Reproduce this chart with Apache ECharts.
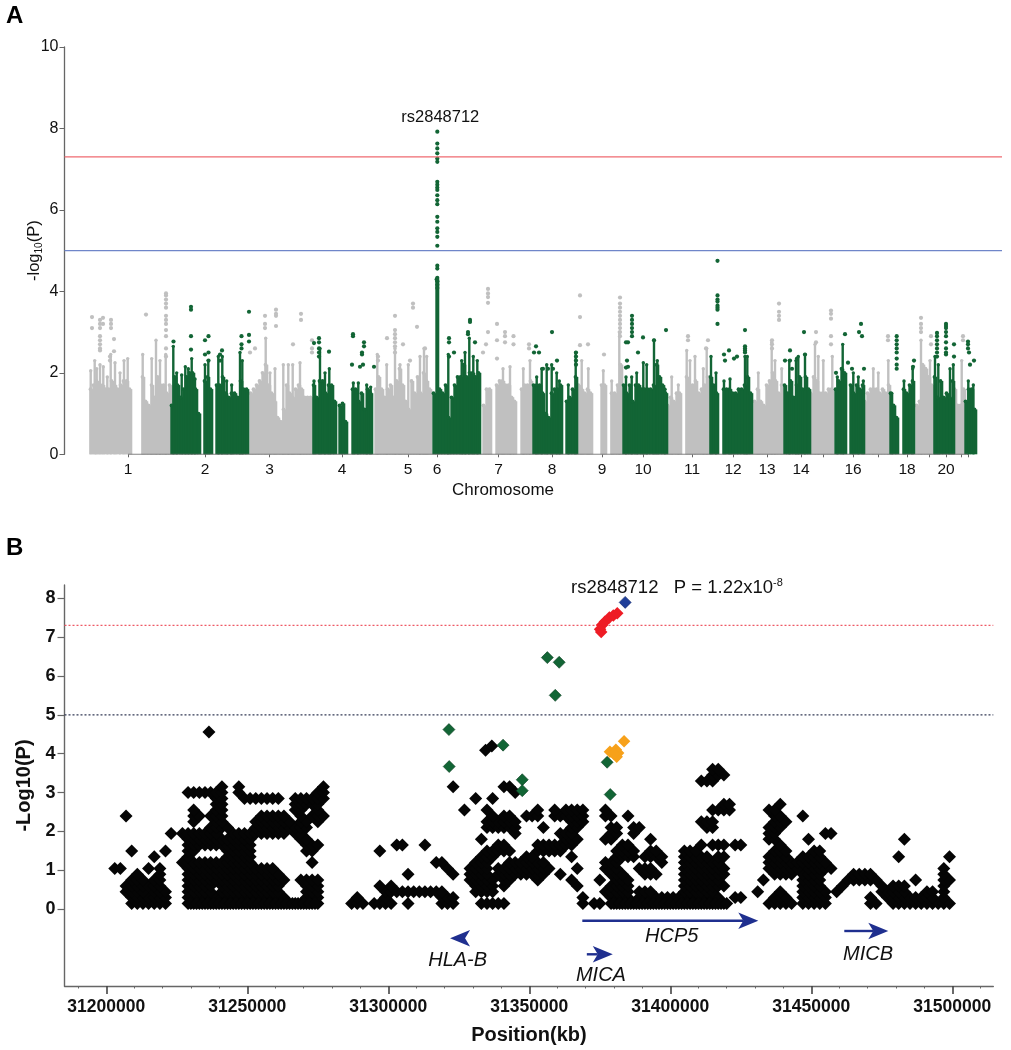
<!DOCTYPE html>
<html><head><meta charset="utf-8"><title>Manhattan and regional plot</title>
<script src="https://cdn.jsdelivr.net/npm/echarts@6/dist/echarts.min.js"></script>
<style>html,body{margin:0;padding:0;background:#fff}#c{width:1011px;height:1050px}</style>
</head><body><div id="c"></div>
<script>
// ---------- Panel A: genome-wide values (x is a running genome index) ----------
const chromTickIndex = [128,205,269.5,342,408,437,498.5,552,602,643,692,733,767,801,823,853,878,907,929,946,961,968];
const chromTickNames = ['1','2','3','4','5','6','7','8','9','10','11','12','13','14','','16','','18','','20','',''];
const columnStep = 3;
// [first index, top of the solid cloud in each column]
const grayBlocks = [
 [89,[1.6,1.7,1.8,1.7,1.7,1.6,1.6,1.8,1.7,1.6,1.7,1.8,1.8,1.6]],
 [141,[1.9,1.3,1.2,1.7,1.4,1.9,1.7,1.7,1.5,1.7]],
 [249,[1.5,1.6,1.7,1.8,2.0,2.2,1.7,1.5,1.3,0.9,0.8,1.1,1.7,1.5,1.4,1.6,1.7,1.6,1.4,1.4,1.4]],
 [374,[1.6,1.9,1.6,1.4,1.6,1.7,1.4,1.8,2.1,1.7,1.3,1.1,1.8,1.5,1.9,1.5,2.0,1.8,1.6]],
 [482,[1.2,1.6,1.6]],
 [495,[1.7,1.8,1.8,1.7,1.7,1.4,1.3]],
 [520,[1.6,1.7,1.7,1.8]],
 [577,[1.7,1.6,1.5,1.6,1.5]],
 [600,[1.7,1.7]],
 [610,[1.5,1.5,1.7,2.2]],
 [666,[1.2,1.4,1.3,1.5,1.5]],
 [685,[1.9,1.7,1.7,1.8,1.5,1.6,1.7,1.9]],
 [753,[1.3,1.6,1.3,1.2,1.7,1.8,2.0,1.8,1.5,1.7]],
 [809,[1.5,1.9,1.8,1.5,1.5,1.5,1.6,1.6]],
 [863,[1.3,1.5,1.6,1.6,1.6,1.5,1.6,1.5,1.7]],
 [915,[1.2,1.3,2.2,2.1]],
 [927,[1.9,1.7]],
 [953,[1.6,1.2,1.2,1.6]]
];
const greenBlocks = [
 [170,[1.2,1.9,1.7,1.4,1.6,1.9,2.0,2.0,1.6,1.0]],
 [203,[1.8,1.9,1.6]],
 [215,[1.7,1.7,1.9,1.5,1.4,1.5,1.5,1.4,1.8,1.6,1.6]],
 [312,[1.7,1.4,1.8,1.8,1.5,1.7,1.7,1.3]],
 [338,[1.2,1.25,0.8]],
 [351,[1.6,1.6,1.3,1.5,1.1,1.6,1.5]],
 [432,[1.5,4.3,1.6,1.5,1.7,0.9,1.4,1.7,1.9,1.9,2.2,1.9,2.0,2.0,1.9,2.0]],
 [532,[1.7,1.7,1.7,1.5,1.0,0.9,1.5,1.6,1.6,1.7]],
 [565,[1.3,1.4,1.6,1.9]],
 [622,[1.7,1.5,1.7,1.3,1.7,1.7,1.6,1.6,1.6,1.6,1.7,2.2,1.9,1.7,1.5]],
 [709,[1.9,1.7,1.5]],
 [722,[1.6,1.6,1.6,1.5,1.5,1.6,1.6,1.7,1.9,1.5]],
 [783,[1.7,1.5,1.8,1.4,1.7,1.9,1.6,1.9,1.6]],
 [834,[1.6,1.8,2.1,2.0]],
 [849,[1.7,1.5,1.7,1.6,1.7]],
 [889,[1.5,1.2,0.9]],
 [902,[1.6,1.5,1.7,1.8]],
 [933,[1.9,1.4,1.8,1.4,1.5,1.4,1.8]],
 [964,[1.3,1.6,1.6,1.1]]
];
// [genome index, top of a narrow spike rising out of the cloud]
const graySpikes = [[90.7,2.05],[94.7,2.3],[96.7,2.1],[100,2.2],[103.3,2.15],[107.3,1.9],[110.7,2.45],[115,2.25],[120,2.0],[124,2.3],[127.7,2.35],
 [142.7,2.45],[151.7,2.35],[156,2.8],[160,2.3],[165.7,2.45],[265.7,2.85],[270,2.0],[275,2.1],[283.3,2.2],[288.3,2.2],[292.7,2.2],[300,2.25],
 [377.3,2.45],[386.7,2.2],[395,2.6],[400,2.2],[408.3,2.2],[420,2.4],[424,2.6],[426.7,2.4],
 [503,2.1],[510,2.15],[523.3,2.1],[530,2.3],[581.7,2.3],[588.3,2.1],[603.3,2.05],[611.7,1.8],[619.3,3.0],[671.7,1.9],[678.3,1.7],
 [686.7,2.55],[690,2.3],[695,2.4],[703.3,2.1],[706.7,2.6],[758.3,2.0],[771.7,2.75],[775,2.3],[781.7,2.1],
 [815,2.7],[818.3,2.4],[823.3,2.3],[832.3,2.4],[873.3,2.1],[878.3,2.0],[888.3,2.3],[921,2.8],[930,2.3],[961.7,2.3]];
const greenSpikes = [[173.3,2.65],[176.7,2.0],[181.7,1.95],[185.3,2.15],[188.3,2.1],[191.7,2.35],[195,1.85],[205,2.2],[208.3,2.3],
 [218.3,2.4],[222.3,2.4],[226.7,1.8],[231.7,1.7],[240,2.5],[242.3,2.3],[314,1.8],[320,2.6],[325,2.0],[329.3,2.1],
 [353.3,1.75],[358.3,1.75],[366.7,1.7],[370.7,1.65],[448.3,2.45],[461.7,2.3],[465,2.5],[469.3,2.85],[473.3,2.4],[477.3,2.3],
 [536.7,1.9],[541.7,2.1],[546.7,2.2],[551.7,2.2],[556.7,2.0],[559.3,1.8],[568.3,1.7],[575.7,2.5],
 [626,1.9],[631.7,1.9],[636.7,2.0],[643.3,2.25],[646.7,2.2],[654,2.8],[657.3,2.3],[665,1.6],[711,2.4],[716,2.0],
 [724,1.8],[730,1.85],[745,2.4],[747.3,2.4],[789.3,2.3],[796,2.3],[798.3,2.4],[805,2.45],
 [837.3,1.9],[842.7,2.7],[853.3,2.0],[858.3,1.9],[863.3,1.8],[891.7,1.5],[904,1.8],[912.7,2.1],
 [935,2.4],[938.3,2.2],[950,2.1],[953.3,2.2],[968.3,1.8],[973.3,1.7]];
// [genome index, -log10(P) values of individual SNPs standing above the cloud]
const grayPeaks = [
 [92,[3.37,3.1]],[100,[3.3,3.2,3.1,2.9,2.8,2.7,2.6,2.55]],[103,[3.35,3.2]],[111,[3.3,3.2,3.1]],[114,[2.83,2.53]],[110,[2.4,2.3]],
 [146,[3.43]],[166,[3.95,3.9,3.8,3.7,3.6,3.4,3.3,3.2,3.05,2.9,2.6,2.4]],
 [265,[3.4,3.2,3.1]],[276,[3.55,3.45,3.4,3.15]],[301,[3.45,3.3]],[293,[2.7]],[255,[2.6]],[250,[2.5]],[312,[2.8,2.6,2.5]],
 [395,[3.4,3.05,2.95,2.85,2.75,2.65,2.5]],[387,[2.85]],[378,[2.4,2.3]],[413,[3.7,3.6]],[417,[3.13]],[403,[2.7]],[410,[2.3]],[425,[2.6]],
 [488,[4.06,3.95,3.86,3.72,3.0]],[486,[2.7]],[483,[2.5]],[497,[3.2,2.8,2.35]],[505,[3.0,2.9,2.75]],[513.5,[2.9,2.7]],
 [529,[2.7,2.6]],[580,[3.9,3.37,2.68]],[588,[2.7]],[604,[2.45]],
 [620,[3.85,3.7,3.6,3.5,3.4,3.3,3.2,3.1,3.0,2.9]],[688,[2.9,2.8]],[708,[2.8]],[706,[2.6]],
 [779,[3.7,3.5,3.4,3.3]],[772,[2.8,2.7,2.6]],[831,[3.53,3.45,3.33,2.9,2.7]],[816,[3.0,2.75]],[888,[2.9,2.8]],
 [921,[3.35,3.2,3.1,3.0]],[931,[2.9,2.7]],[963,[2.9,2.8]]
];
const greenPeaks = [
 [191,[3.62,3.55,2.9,2.57]],[173.5,[2.77]],[205,[2.8,2.45]],[208.5,[2.9,2.5,2.3]],[222,[2.55]],[220,[2.45,2.3]],[241.5,[2.9,2.7,2.6]],[249,[3.5,2.93,2.77]],
 [314,[2.73]],[319,[2.85,2.75,2.6,2.5,2.4]],[329,[2.52]],[353,[2.95,2.9]],[364,[2.75,2.65]],[362,[2.5,2.45]],[352,[2.2]],[374,[2.15]],[360,[2.15]],[363,[2.2]],
 [437.3,[7.92,7.63,7.51,7.39,7.26,7.18,6.69,6.62,6.55,6.49,6.36,6.24,6.14,5.83,5.71,5.55,5.46,5.34,5.12,4.63,4.56,4.33,4.25,4.16,4.08]],
 [470,[3.3,3.25]],[468,[3.0,2.95]],[449,[2.85,2.75,2.4]],[454,[2.5]],[475,[2.75]],
 [536,[2.65]],[534,[2.5]],[539,[2.5]],[552,[3.0]],[557,[2.3]],[543,[2.1]],[553,[2.1]],[548,[2.1]],[576,[2.5,2.4,2.3,2.2]],
 [632,[3.4,3.3,3.2,3.1,3.0,2.9]],[626,[2.75,2.13]],[628,[2.75,2.15]],[627,[2.3]],[643,[2.87]],[638,[2.5]],[666,[3.05]],[654,[2.8]],
 [717.5,[4.75,3.9,3.8,3.75,3.65,3.6,3.55,3.2]],[745,[3.05,2.65,2.6,2.55,2.5]],[724,[2.45]],[729,[2.55]],[725,[2.3]],[734,[2.35]],[737,[2.4]],
 [804,[3.0]],[790,[2.55,2.3]],[785,[2.3]],[797,[2.35]],[805,[2.45]],[792,[2.1]],
 [845,[2.95]],[861,[3.2]],[859,[3.0]],[862,[2.9]],[848,[2.25]],[864,[2.1]],[836,[2.0]],[852,[2.1]],
 [896.7,[2.9,2.8,2.7,2.6,2.5,2.35,2.2,2.1]],[914,[2.3]],[913,[2.15]],
 [937,[2.98,2.9,2.8,2.7,2.6,2.5,2.4]],[946,[3.2,3.15,3.1,3.0,2.9,2.75,2.6,2.5,2.45]],[954,[2.7,2.4]],
 [968,[2.77,2.7,2.6]],[969,[2.5]],[974,[2.3]],[970,[2.2]]
];
const genomeWideLine = 7.3, suggestiveLine = 5;
const leadSnpA = [437.3, 7.92];

// ---------- Panel B: regional plot ----------
const snpColumnStartKb = 31203, snpColumnStepKb = 2;
// [-log10(P), runs of SNP columns read at that level]
const blackSnpRows = [
 [0.15,"3-9 13-36 42-44 46-49 52 58-60 65-69 83 85-86 88-108 116-120 122-126 134-135 138-148"],
 [0.30,"3-9 13-30 34-36 43 48 58-60 83 88-91 93-107 110-111 117-119 122-126 134 137-145 147"],
 [0.45,"2-5 7-9 13-17 19-29 34-36 48-58 64-67 87-91 93-95 101-106 114 118 122-126 128 136-140 144-145 147"],
 [0.60,"2-8 13-17 19-29 34-36 47 49 64-67 69 82 88-91 101-108 122-125 129 136 138-140 147"],
 [0.75,"3-5 7-8 13-30 33-36 63-67 69-70 75 81 86 89-91 101-107 115 122-125 130-135 142 147-148"],
 [0.90,"4 8 13-29 52 60 63-66 68-76 79 88-90 94-96 101-108 117-120 122-125 131-134 147"],
 [1.05,"0-1 6 8 13-28 59 63-66 68-77 82 87-89 93-95 101-108 116-121 123-127 147"],
 [1.20,"12-24 35 57-58 64-66 70-76 87-89 97 101-107 116-126"],
 [1.35,"7 13 20-24 65-67 73-74 81 89-92 94-97 101-105 107-108 116-119 122-125 139 148"],
 [1.50,"3 9 13-14 20-24 34-35 47 66-70 75-79 89-92 95-96 101-103 117-119 124-125"],
 [1.65,"13-24 34-36 50-51 55 68-69 75-81 90-91 104 106-108 110-111 118"],
 [1.80,"13-24 33-34 65 80-82 87-88 95 116-117 123 140"],
 [1.95,"10 12-18 21-30 32-33 71 79-81 88-89 92 116-117 126-127"],
 [2.10,"17-20 25-34 66-71 76 81-82 88-89 92-93 105-106 116-118"],
 [2.25,"14 18-19 25-31 33-34 36 66-71 81-83 104-106 117-119"],
 [2.40,"2 14-15 17-19 26-30 33 35-37 67 69-70 73-75 78-83 87-88 91 117-118 122"],
 [2.55,"14 18-19 32-33 36 62 66 75 78 80-83 87 106-109 116-117"],
 [2.70,"18-19 32-36 108-109 118"],
 [2.85,"18-19 23-29 32-37 64 67"],
 [3.00,"13-19 22 36-37 71"],
 [3.15,"19 22 37 60 69-70"],
 [3.30,"104-106"],
 [3.45,"106-108"],
 [3.60,"106-107"]
];
// SNPs lying between the columns along the floor of the plot
const blackFloorKb = [31230,31232,31234,31236,31238,31240,31242,31244,31246,31248,31250,31252,31254,31256,31258,31260,31262,31264,31266,31268,31270,31272,31274,31380,31382,31384,31386,31388,31390,31392,31394,31396,31398,31400,31402,31404,31406,31408,31410,31412,31414,31416,31418,31420];
const blackExtraSnps = [[31236400,4.56],[31334500,4.09],[31336700,4.2]];
const greenSnps = [[31321500,4.62],[31321600,3.67],[31340700,4.22],[31347500,3.33],[31347500,3.05],[31356400,6.47],[31360600,6.35],[31359200,5.5],[31377600,3.78],[31378700,2.95]];
const redSnps = [[31375100,7.2],[31375500,7.13],[31375800,7.31],[31376800,7.39],[31378400,7.5],[31379800,7.55],[31381200,7.61]];
const orangeSnps = [[31383600,4.32],[31378600,4.05],[31380700,4.1],[31381500,4.02],[31381000,3.92],[31380000,4.0]];
const leadSnpB = [[31384000,7.89]];
const positionTicks = [31200000,31250000,31300000,31350000,31400000,31450000,31500000];
const positionMinorTicks = [31190000,31210000,31220000,31230000,31240000,31260000,31270000,31280000,31290000,31310000,31320000,31330000,31340000,31360000,31370000,31380000,31390000,31410000,31420000,31430000,31440000,31460000,31470000,31480000,31490000,31510000];
const positionMin = 31185180, positionMax = 31514540;
const regionalTicks = [0,1,2,3,4,5,6,7,8];
const regionalMin = -1.972, regionalMax = 8.337;
const geneNames = ['HLA-B','HCP5','MICA','MICB'];
const geneFrom = [31329000,31368800,31370400,31461700];
const geneTo = [31321900,31431200,31379600,31477300];
const geneLevel = [-0.745,-0.293,-1.157,-0.558];
const geneLabelPos = [31324600,31400500,31375400,31470100];
const geneLabelLevel = [-1.305,-0.704,-1.689,-1.149];

// ---------- build ----------
const FONT = '"Liberation Sans", Arial, sans-serif';
const INK = '#111', AXIS = '#666', GRAY = '#c0c0c0', GREEN = '#126535';
const columns = blocks => blocks.flatMap(([s,h]) => h.map((v,i) => [s + columnStep/2 + i*columnStep, v]));
const peaks = list => list.flatMap(([x,vs]) => vs.map(v => [x,v]));
const blackSnps = blackSnpRows.flatMap(([v,runs]) => runs.split(' ').flatMap(r => {
  const [a,b] = r.split('-').map(Number), out = [];
  for (let c = a; c <= (b === undefined ? a : b); c++) out.push([(snpColumnStartKb + c*snpColumnStepKb)*1000, v]);
  return out;
})).concat(blackFloorKb.map(k => [k*1000,0.15])).concat(blackExtraSnps);
const dots = (name,data,color,z,size) => ({name,type:'scatter',xAxisIndex:0,yAxisIndex:0,data,symbol:'circle',symbolSize:size||4.2,itemStyle:{color,opacity:1},z,silent:true});
const diamonds = (name,data,color,size,z,border) => ({name,type:'scatter',xAxisIndex:1,yAxisIndex:1,data,symbol:'diamond',symbolSize:size,itemStyle:{color,opacity:1,borderColor:border||color,borderWidth:border?0.6:0},z,silent:true});
const rule = (ax,x0,x1,y,color,type,z) => ({type:'line',xAxisIndex:ax,yAxisIndex:ax?1:0,data:[[x0,y],[x1,y]],showSymbol:false,symbol:'none',silent:true,lineStyle:{color,width:type==='solid'?1.2:1.3,opacity:1,type:type==='solid'?'solid':[2,2]},z});
const cloud = (name,data,color,width,z) => ({name,type:'bar',xAxisIndex:0,yAxisIndex:0,data,barWidth:width,barGap:'-100%',itemStyle:{color},z,silent:true});

function geneArrow(params, api){
  const a = api.coord([api.value(0),api.value(2)]), b = api.coord([api.value(1),api.value(2)]);
  const dir = b[0] > a[0] ? 1 : -1, y = a[1], tip = b[0], back = tip - dir*20, notch = tip - dir*15, hw = 8.3;
  const col = '#1f2f8f', kids = [
    {type:'polygon',shape:{points:[[tip,y],[back,y-hw],[notch,y],[back,y+hw]]},style:{fill:col}}
  ];
  if (Math.abs(tip-a[0]) > 21) kids.push({type:'line',shape:{x1:a[0],y1:y,x2:notch,y2:y},style:{stroke:col,lineWidth:2.4}});
  const t = api.coord([api.value(3),api.value(4)]);
  kids.push({type:'text',x:t[0],y:t[1],style:{text:geneNames[params.dataIndex],fill:INK,font:'italic 20px "Liberation Sans", Arial, sans-serif',textAlign:'center',textVerticalAlign:'middle'}});
  return {type:'group',children:kids};
}

const chart = echarts.init(document.getElementById('c'), null, {renderer:'canvas'});
chart.setOption({
  animation:false,
  backgroundColor:'#fff',
  title:[
    {text:'A',left:6,top:4.5,padding:0,textStyle:{fontFamily:FONT,fontWeight:'bold',fontSize:24,color:'#000'}},
    {text:'B',left:6,top:536,padding:0,textStyle:{fontFamily:FONT,fontWeight:'bold',fontSize:24,color:'#000'}},
    {text:'Chromosome',left:503,top:482,padding:0,textAlign:'center',textStyle:{fontFamily:FONT,fontWeight:'normal',fontSize:17,color:INK}},
    {text:'{a|rs2848712   P = 1.22x10}{s|-8}',left:571,top:577,padding:0,textStyle:{fontFamily:FONT,fontWeight:'normal',rich:{
      a:{fontFamily:FONT,fontSize:18.5,color:INK,lineHeight:22},
      s:{fontFamily:FONT,fontSize:11,color:INK,lineHeight:22,verticalAlign:'top'}}}}
  ],
  grid:[
    {left:64.5,right:9,top:47,height:407.3,containLabel:false,outerBoundsMode:'none'},
    {left:64.5,right:17.7,top:585,height:401,containLabel:false,outerBoundsMode:'none'}
  ],
  xAxis:[
    {type:'value',gridIndex:0,position:'bottom',min:64.5,max:1002,axisLine:{show:false,onZero:false},splitLine:{show:false},
     axisTick:{show:true,length:3,customValues:chromTickIndex,lineStyle:{color:AXIS,width:1}},
     axisLabel:{show:true,customValues:chromTickIndex.filter((v,i)=>chromTickNames[i]),margin:7,fontFamily:FONT,fontSize:15.5,color:INK,showMinLabel:true,showMaxLabel:true,hideOverlap:false,
       formatter:v=>chromTickNames[chromTickIndex.indexOf(v)]}},
    {type:'value',gridIndex:1,position:'bottom',min:positionMin,max:positionMax,axisLine:{show:true,onZero:false,lineStyle:{color:AXIS,width:1.4}},splitLine:{show:false},
     axisTick:{show:true,length:8,customValues:positionTicks,lineStyle:{color:'#444',width:1.6}},
     axisLabel:{show:true,customValues:positionTicks,margin:12,fontFamily:FONT,fontWeight:'bold',fontSize:17.5,color:INK,formatter:v=>String(v)},
     name:'Position(kb)',nameLocation:'middle',nameGap:39,nameMoveOverlap:false,nameTextStyle:{fontFamily:FONT,fontWeight:'bold',fontSize:20,color:INK}},
    {type:'value',gridIndex:1,position:'bottom',min:positionMin,max:positionMax,axisLine:{show:false,onZero:false},splitLine:{show:false},
     axisTick:{show:true,length:2.5,customValues:positionMinorTicks,lineStyle:{color:AXIS,width:1}},
     axisLabel:{show:false}}
  ],
  yAxis:[
    {type:'value',gridIndex:0,min:0,max:10,interval:2,splitLine:{show:false},
     axisLine:{show:true,lineStyle:{color:AXIS,width:1.3}},axisTick:{show:true,length:5,lineStyle:{color:AXIS,width:1}},
     axisLabel:{margin:6,fontFamily:FONT,fontSize:16,color:INK},
     name:'{a|-log}{s|10}{a|(P)}',nameLocation:'middle',nameGap:20,nameMoveOverlap:false,
     nameTextStyle:{fontFamily:FONT,color:INK,rich:{a:{fontFamily:FONT,fontSize:16.5,color:INK,lineHeight:20},s:{fontFamily:FONT,fontSize:10,color:INK,lineHeight:20,verticalAlign:'bottom'}}}},
    {type:'value',gridIndex:1,min:regionalMin,max:regionalMax,splitLine:{show:false},
     axisLine:{show:true,onZero:false,lineStyle:{color:AXIS,width:1.4}},
     axisTick:{show:true,length:7,customValues:regionalTicks,lineStyle:{color:AXIS,width:1.2}},
     axisLabel:{customValues:regionalTicks,margin:9,fontFamily:FONT,fontWeight:'bold',fontSize:18,color:INK},
     name:'-Log10(P)',nameLocation:'middle',nameGap:30,nameMoveOverlap:false,nameTextStyle:{fontFamily:FONT,fontWeight:'bold',fontSize:20,color:INK}}
  ],
  series:[
    cloud('gray cloud',columns(grayBlocks),GRAY,4,2),
    cloud('gray spikes',graySpikes,GRAY,2.4,2),
    dots('gray tops',columns(grayBlocks),GRAY,2,3.8),
    dots('gray spike tops',graySpikes,GRAY,2,3.4),
    cloud('green cloud',columns(greenBlocks),GREEN,4,3),
    cloud('green spikes',greenSpikes,GREEN,2.4,3),
    dots('green tops',columns(greenBlocks),GREEN,3,3.8),
    dots('green spike tops',greenSpikes,GREEN,3,3.4),
    dots('gray peaks',peaks(grayPeaks),GRAY,4),
    dots('green peaks',peaks(greenPeaks),GREEN,5),
    rule(0,64.5,1002,genomeWideLine,'#ef6a70','solid',6),
    rule(0,64.5,1002,suggestiveLine,'#6f86c9','solid',6),
    {type:'line',xAxisIndex:0,yAxisIndex:0,data:[[chromTickIndex[0],0],[chromTickIndex[chromTickIndex.length-1],0]],showSymbol:false,symbol:'none',silent:true,lineStyle:{color:AXIS,width:1},z:7},
    {name:'lead label',type:'scatter',xAxisIndex:0,yAxisIndex:0,data:[leadSnpA],symbolSize:0,silent:true,z:8,itemStyle:{opacity:1},
     label:{show:true,position:'top',distance:6,offset:[3,0],formatter:'rs2848712',fontFamily:FONT,fontSize:16.5,color:INK,opacity:1}},
    rule(1,positionMin,positionMax,genomeWideLine,'#ee5a66','dotted',2),
    rule(1,positionMin,positionMax,suggestiveLine,'#333a55','dotted',2),
    diamonds('other',blackSnps,'#050505',13,3),
    diamonds('r2 mid',greenSnps,GREEN,12,4,'#0a3d20'),
    diamonds('r2 high',orangeSnps,'#f7a11a',12.5,4),
    diamonds('r2 top',redSnps,'#ee1c25',12.5,5),
    diamonds('lead',leadSnpB,'#1f3f99',12,6,'#14296b'),
    {name:'genes',type:'custom',xAxisIndex:1,yAxisIndex:1,silent:true,z:6,clip:false,renderItem:geneArrow,
     data:geneNames.map((n,i)=>[geneFrom[i],geneTo[i],geneLevel[i],geneLabelPos[i],geneLabelLevel[i]])}
  ]
});
</script></body></html>
